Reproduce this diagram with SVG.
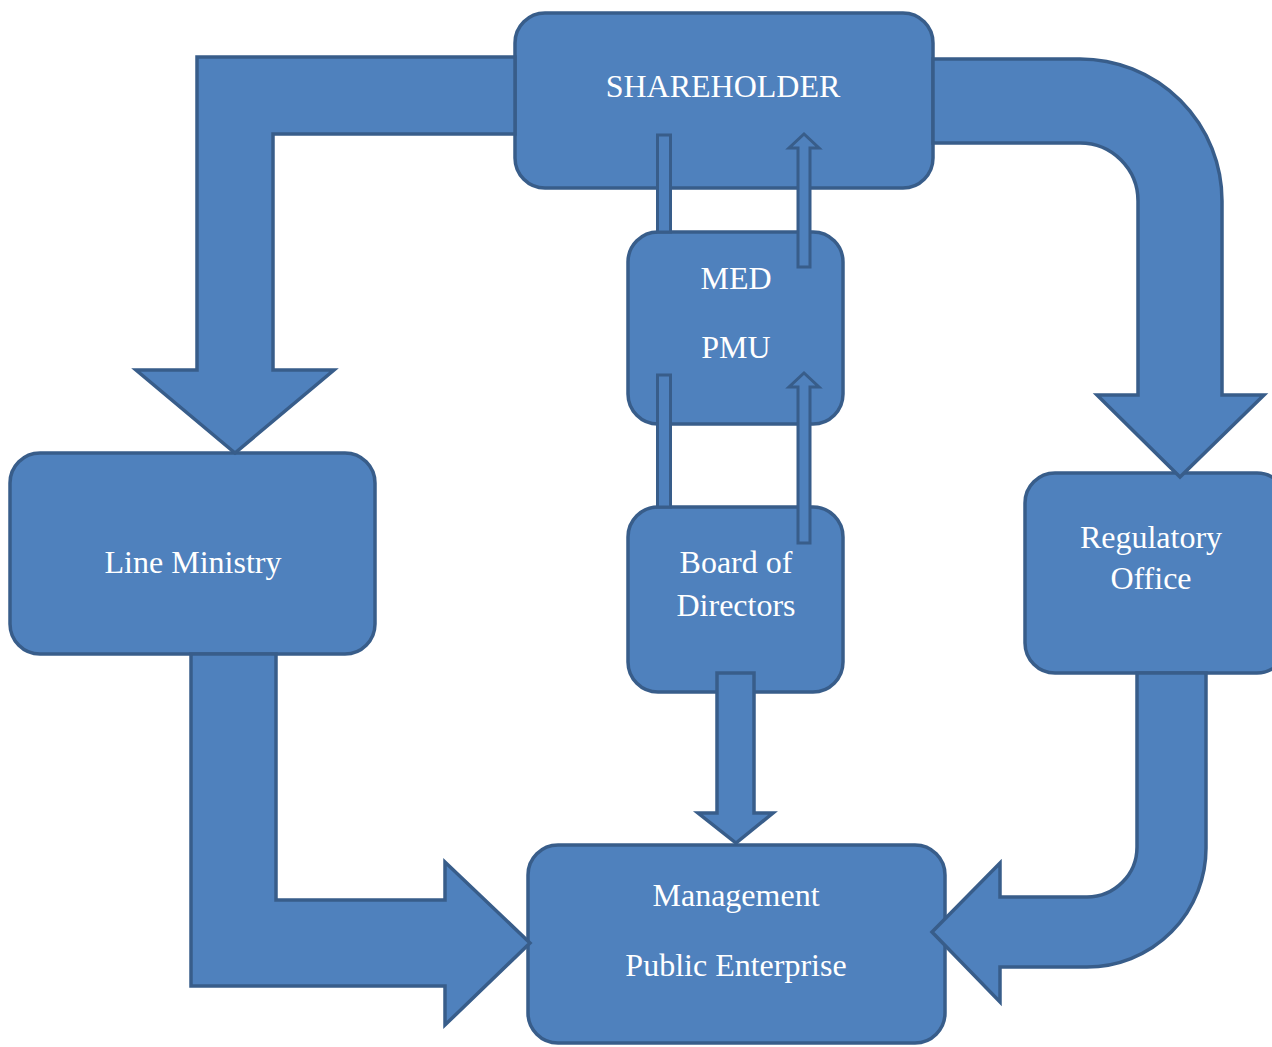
<svg xmlns="http://www.w3.org/2000/svg" width="1272" height="1047" viewBox="0 0 1272 1047">
<style>
.box{fill:#4F81BD;stroke:#385D8A;stroke-width:3.5}
.arr{fill:#4F81BD;stroke:#385D8A;stroke-width:3.5;stroke-linejoin:miter}
.thin{fill:#4F81BD;stroke:#385D8A;stroke-width:3}
.lbl{font-family:"Liberation Serif","Times New Roman",serif;font-size:32px;fill:#FFFFFF;text-anchor:middle}
</style>
<rect width="1272" height="1047" fill="#FFFFFF"/>
<g id="shareholder"><rect class="box" x="515" y="13" width="418" height="175" rx="30"/><text class="lbl" x="723" y="97">SHAREHOLDER</text></g>
<g id="med-pmu"><rect class="box" x="628" y="232" width="215" height="192" rx="30"/><text class="lbl" x="736" y="289">MED</text><text class="lbl" x="736" y="358">PMU</text></g>
<g id="board"><rect class="box" x="628" y="507" width="215" height="185" rx="30"/><text class="lbl" x="736" y="573">Board of</text><text class="lbl" x="736" y="616">Directors</text></g>
<g id="line-ministry"><rect class="box" x="10" y="453" width="365" height="201" rx="30"/><text class="lbl" x="193" y="573">Line Ministry</text></g>
<g id="regulatory-office"><rect class="box" x="1025" y="473" width="262" height="200" rx="30"/><text class="lbl" x="1151" y="548">Regulatory</text><text class="lbl" x="1151" y="589">Office</text></g>
<g id="management"><rect class="box" x="528" y="845" width="417" height="198" rx="30"/><text class="lbl" x="736" y="906">Management</text><text class="lbl" x="736" y="976">Public Enterprise</text></g>
<g id="connectors">
<path class="arr" d="M515,57 L197,57 L197,370 L136,370 L235,453 L334,370 L273,370 L273,134 L515,134 Z"/>
<path class="arr" d="M933,59 L1080,59 A142,142 0 0 1 1222,201 L1222,395 L1264,395 L1180,477 L1097,395 L1138,395 L1138,201 A58,58 0 0 0 1080,143 L933,143 Z"/>
<path class="arr" d="M1137,673 L1137,847 A50,50 0 0 1 1087,897 L1000,897 L1000,863 L932,932 L1000,1002 L1000,967 L1087,967 A119,119 0 0 0 1206,847 L1206,673 Z"/>
<path class="arr" d="M191,654 L191,986 L445,986 L445,1025 L530,943 L445,862 L445,900 L276,900 L276,654 Z"/>
<path class="arr" d="M717,673 L754,673 L754,813 L773,813 L736,843 L698,813 L717,813 Z"/>
<rect class="thin" x="657.5" y="135" width="13" height="97"/>
<rect class="thin" x="657.5" y="375" width="13" height="132"/>
<path class="thin" d="M798,267 L798,148 L789,148 L804,134 L819,148 L810,148 L810,267 Z"/>
<path class="thin" d="M798,543 L798,387 L789,387 L804,373 L819,387 L810,387 L810,543 Z"/>
</g>
</svg>
